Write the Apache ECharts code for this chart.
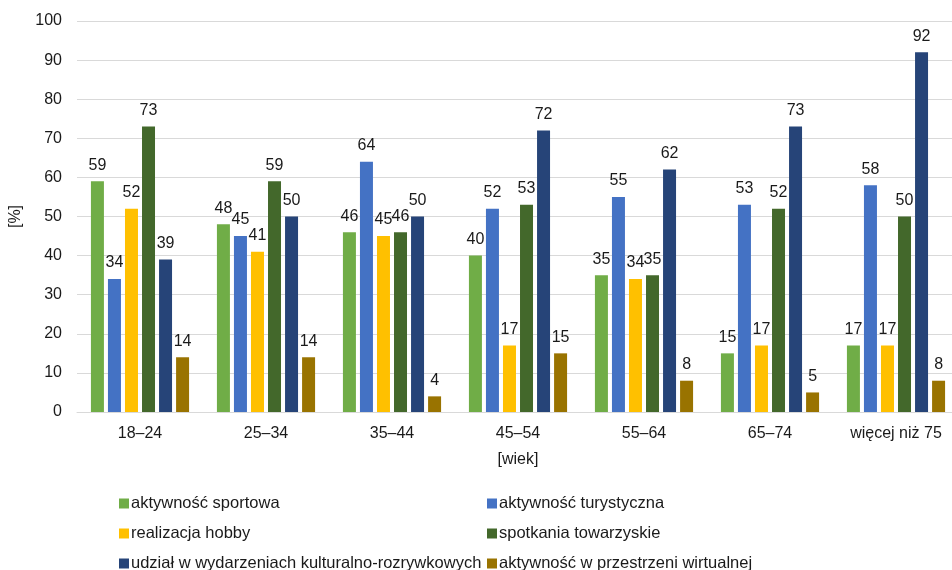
<!DOCTYPE html>
<html><head><meta charset="utf-8">
<script src="https://cdn.jsdelivr.net/npm/echarts@6/dist/echarts.min.js"></script>
<style>html,body{margin:0;padding:0;background:#fff;overflow:hidden}#c{width:962px;height:570px}</style>
</head><body><div id="c"></div>
<script>
var categories = ['18–24','25–34','35–44','45–54','55–64','65–74','więcej niż 75'];
var sportowa = [59,48,46,40,35,15,17];
var turystyczna = [34,45,64,52,55,53,58];
var hobby = [52,41,45,17,34,17,17];
var towarzyskie = [73,59,46,53,35,52,50];
var kulturalne = [39,50,50,72,62,73,92];
var wirtualna = [14,14,4,15,8,5,8];
var seriesNames = ['aktywność sportowa','aktywność turystyczna','realizacja hobby','spotkania towarzyskie','udział w wydarzeniach kulturalno-rozrywkowych','aktywność w przestrzeni wirtualnej'];
var colors = ['#70AD47','#4472C4','#FFC000','#43682B','#264478','#997300'];
var yTicks = [0,10,20,30,40,50,60,70,80,90,100];

var font = 'Liberation Sans, Arial, sans-serif';
var data = [sportowa, turystyczna, hobby, towarzyskie, kulturalne, wirtualna];
var chart = echarts.init(document.getElementById('c'));
var legendText = {fontSize: 16.5, color: '#1a1a1a', fontFamily: font, padding: [0,0,0,-3]};
chart.setOption({
  animation: false,
  textStyle: {fontFamily: font},
  grid: {left: 74, right: 3, top: 21, bottom: 158},
  legend: [
    {orient: 'vertical', left: 114, top: 490, height: 100, itemWidth: 10, itemHeight: 10, itemGap: 13,
     icon: 'rect', textStyle: legendText,
     data: [seriesNames[0], seriesNames[2], seriesNames[4]]},
    {orient: 'vertical', left: 482, top: 490, height: 100, itemWidth: 10, itemHeight: 10, itemGap: 13,
     icon: 'rect', textStyle: legendText,
     data: [seriesNames[1], seriesNames[3], seriesNames[5]]}
  ],
  xAxis: {
    type: 'category', data: categories,
    name: '[wiek]', nameLocation: 'middle', nameGap: 40,
    nameTextStyle: {fontSize: 16, color: '#1a1a1a'},
    axisLine: {lineStyle: {color: '#d9d9d9', width: 1}},
    axisTick: {show: false},
    axisLabel: {fontSize: 16, color: '#1a1a1a', margin: 14}
  },
  yAxis: {
    type: 'value', min: yTicks[0], max: yTicks[yTicks.length-1], interval: 10,
    name: '[%]', nameLocation: 'middle', nameGap: 53,
    nameTextStyle: {fontSize: 16, color: '#1a1a1a'},
    axisLine: {show: false}, axisTick: {show: false},
    axisLabel: {fontSize: 16, color: '#1a1a1a', margin: 15},
    splitLine: {lineStyle: {color: '#d9d9d9', width: 1}}
  },
  series: seriesNames.map(function(n, i){
    return {
      name: n, type: 'bar', data: data[i], barWidth: 13, barGap: '31%',
      itemStyle: {color: colors[i]},
      label: {show: true, position: 'top', distance: 8, fontSize: 16, color: '#1a1a1a', fontFamily: font}
    };
  })
});
</script></body></html>
